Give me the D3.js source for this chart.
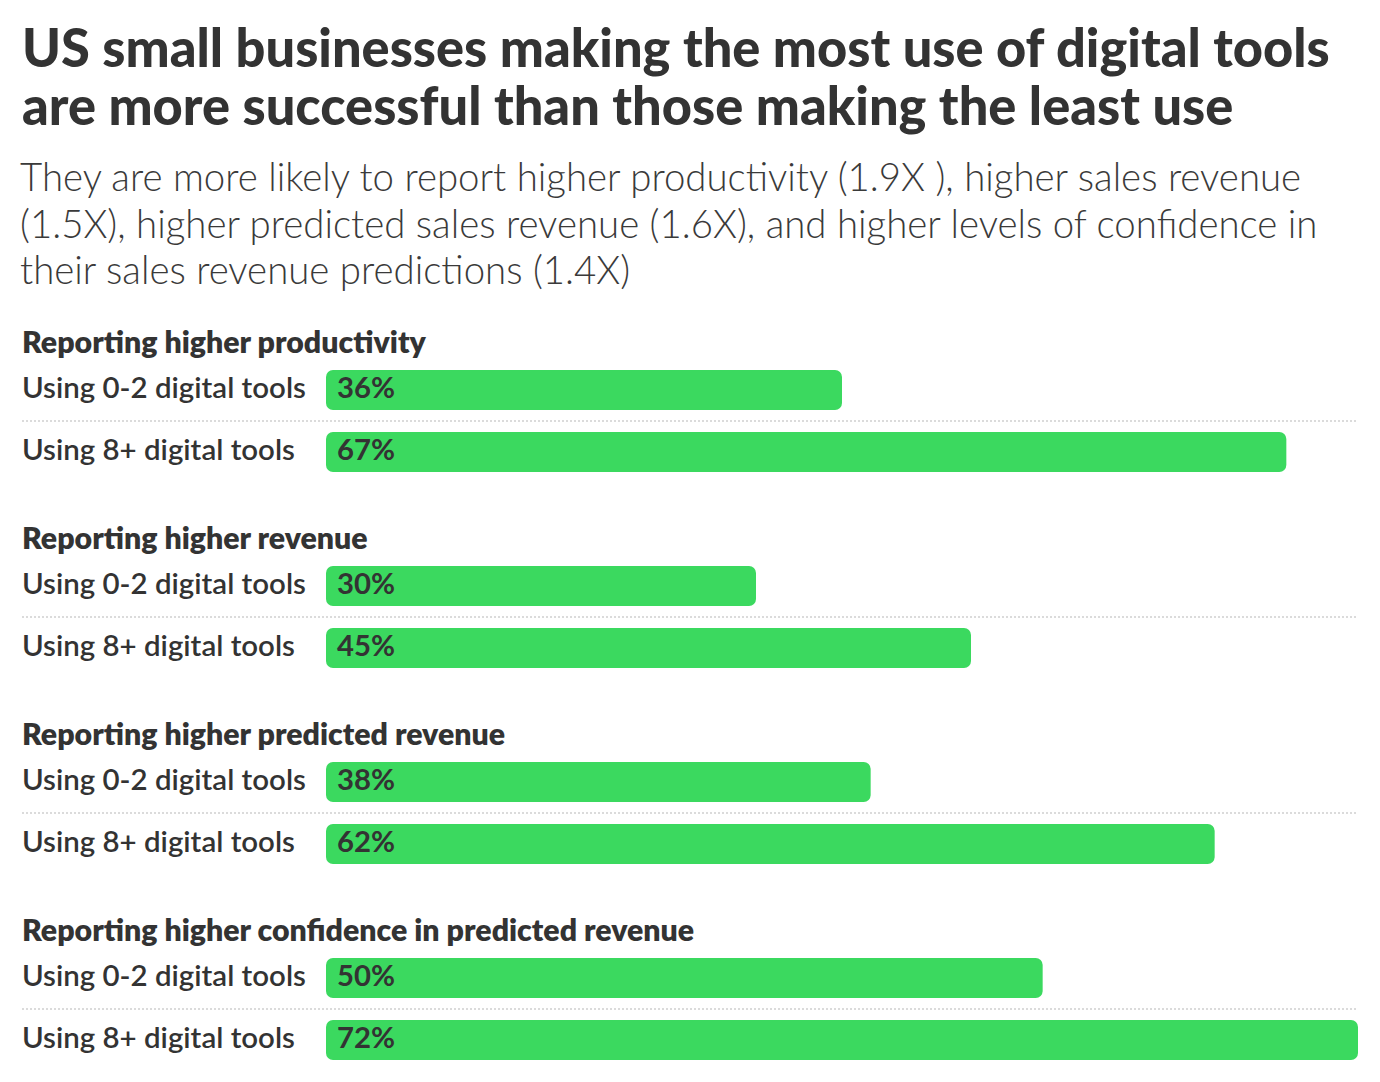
<!DOCTYPE html>
<html>
<head>
<meta charset="utf-8">
<script src="https://cdn.jsdelivr.net/npm/d3@7"></script>
<style>
  html, body { margin: 0; padding: 0; background: #fff; }
  svg { display: block; }
</style>
</head>
<body>
<svg id="chart" width="1380" height="1082"></svg>
<script>
const titleLines = [
  "US small businesses making the most use of digital tools",
  "are more successful than those making the least use"
];
const subtitleLines = [
  "They are more likely to report higher productivity (1.9X ), higher sales revenue",
  "(1.5X), higher predicted sales revenue (1.6X), and higher levels of confidence in",
  "their sales revenue predictions (1.4X)"
];
const groups = [
  "Reporting higher productivity",
  "Reporting higher revenue",
  "Reporting higher predicted revenue",
  "Reporting higher confidence in predicted revenue"
];
const rowLabels = ["Using 0-2 digital tools", "Using 8+ digital tools"];
const valuesLow  = [36, 30, 38, 50];
const valuesHigh = [67, 45, 62, 72];

const FONT = "Lato, 'Open Sans', sans-serif";
const TEXT = "#333333";
const GREEN = "#3bd95f";

const svg = d3.select("#chart");

function fitSize(sel, target) {
  const n = sel.node();
  const fs = parseFloat(sel.attr("font-size"));
  const w = n.getComputedTextLength();
  return fs * target / w;
}

// Title
const title = svg.append("g");
const t0 = title.append("text").attr("x", 22).attr("y", 67)
  .attr("font-family", FONT).attr("font-weight", 900).attr("font-size", 46)
  .text(titleLines[0]);
const titleFs = fitSize(t0, 1308);
title.selectAll("text").remove();
title.selectAll("text").data(titleLines).join("text")
  .attr("x", 22).attr("y", (d, i) => 67 + i * 58)
  .attr("font-family", FONT).attr("font-weight", 900).attr("font-size", titleFs)
  .attr("fill", TEXT).text(d => d);

// Subtitle
const sub = svg.append("g");
const s0 = sub.append("text").attr("x", 22).attr("y", 191)
  .attr("font-family", FONT).attr("font-weight", 300).attr("font-size", 32)
  .text(subtitleLines[1]);
const subFs = fitSize(s0, 1298);
sub.selectAll("text").remove();
sub.selectAll("text").data(subtitleLines).join("text")
  .attr("x", 20).attr("y", (d, i) => 191 + i * 46.5)
  .attr("font-family", FONT).attr("font-weight", 300).attr("font-size", subFs)
  .attr("fill", "#3a3a3a").text(d => d);

// Scales
const x = d3.scaleLinear()
  .domain([0, d3.max(valuesHigh.concat(valuesLow))])
  .range([326, 1358]);
const gy = d3.scaleLinear().domain([0, 1]).range([0, 196]); // group pitch
const rowBand = d3.scaleBand().domain([0, 1]).range([370, 472])
  .paddingInner(22 / 62).paddingOuter(0);

// measure label sizes
const tmp = svg.append("text").attr("font-family", FONT).attr("font-weight", 800)
  .attr("font-size", 26).text(groups[0]);
const headFs = fitSize(tmp, 404);
tmp.attr("font-weight", 600).attr("font-size", 26).text(rowLabels[0]);
const rowFs = fitSize(tmp, 284);
tmp.attr("font-weight", 700).attr("font-size", 26).text("36%");
const valFs = fitSize(tmp, 58);
tmp.remove();

const data = groups.map((g, i) => ({
  group: g, i,
  rows: [
    { label: rowLabels[0], value: valuesLow[i], r: 0 },
    { label: rowLabels[1], value: valuesHigh[i], r: 1 }
  ]
}));

const gSel = svg.selectAll("g.group").data(data).join("g")
  .attr("class", "group")
  .attr("transform", d => `translate(0,${gy(d.i)})`);

gSel.append("text")
  .attr("x", 22).attr("y", 353)
  .attr("font-family", FONT).attr("font-weight", 800).attr("font-size", headFs)
  .attr("fill", TEXT).text(d => d.group);

const sepY = (rowBand(0) + rowBand.bandwidth() + rowBand(1)) / 2;
gSel.append("line")
  .attr("x1", 22).attr("x2", x.range()[1])
  .attr("y1", sepY).attr("y2", sepY)
  .attr("stroke", "#cfcfcf").attr("stroke-width", 1.5)
  .attr("stroke-dasharray", "2,2");

const rows = gSel.selectAll("g.row").data(d => d.rows).join("g").attr("class", "row");

rows.append("rect")
  .attr("x", x(0)).attr("y", d => rowBand(d.r))
  .attr("width", d => x(d.value) - x(0))
  .attr("height", rowBand.bandwidth())
  .attr("rx", 7).attr("ry", 7)
  .attr("fill", GREEN);

rows.append("text")
  .attr("x", 22).attr("y", d => rowBand(d.r) + rowBand.bandwidth() / 2 + 8)
  .attr("font-family", FONT).attr("font-weight", 600).attr("font-size", rowFs)
  .attr("fill", TEXT).text(d => d.label);

rows.append("text")
  .attr("x", x(0) + 11).attr("y", d => rowBand(d.r) + rowBand.bandwidth() / 2 + 8)
  .attr("font-family", FONT).attr("font-weight", 700).attr("font-size", valFs)
  .attr("fill", TEXT).text(d => d.value + "%");
</script>
</body>
</html>
